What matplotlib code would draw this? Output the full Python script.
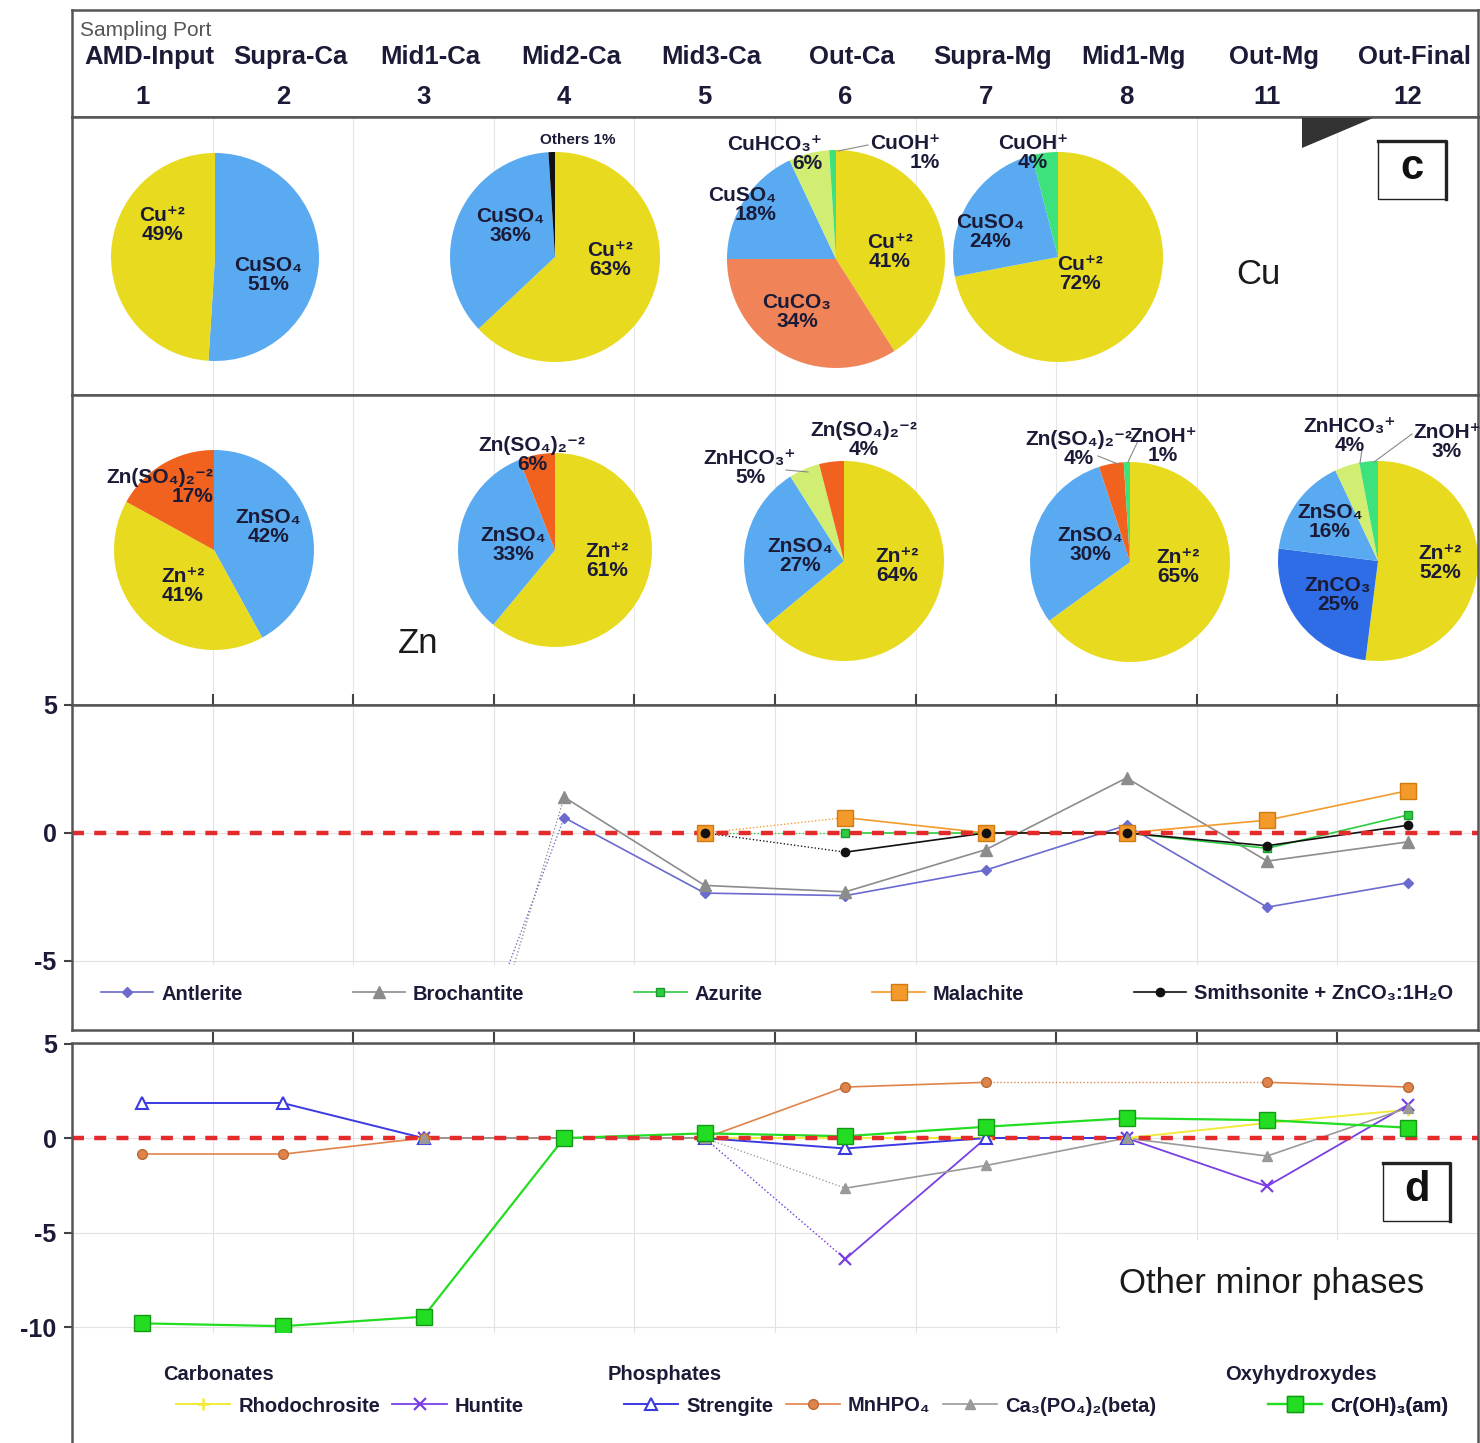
import numpy as np
import matplotlib
matplotlib.use('Agg')
import matplotlib.pyplot as plt
from matplotlib.lines import Line2D
from matplotlib.patches import Polygon, Rectangle

plt.rcParams['font.family'] = ['Liberation Sans', 'DejaVu Sans']
plt.rcParams['axes.unicode_minus'] = False

W, H = 1480, 1443
INK = '#1b1b38'
FRAME = '#555555'

# ---------------- data ----------------
ports = ['AMD-Input', 'Supra-Ca', 'Mid1-Ca', 'Mid2-Ca', 'Mid3-Ca',
         'Out-Ca', 'Supra-Mg', 'Mid1-Mg', 'Out-Mg', 'Out-Final']
port_ids = ['1', '2', '3', '4', '5', '6', '7', '8', '11', '12']

# Cu speciation (%)
cu_input_species = ['CuSO₄', 'Cu⁺²']
cu_input_pct = [51, 49]
cu_mid2ca_species = ['Cu⁺²', 'CuSO₄', 'Others']
cu_mid2ca_pct = [63, 36, 1]
cu_outca_species = ['Cu⁺²', 'CuCO₃', 'CuSO₄', 'CuHCO₃⁺', 'CuOH⁺']
cu_outca_pct = [41, 34, 18, 6, 1]
cu_supramg_species = ['Cu⁺²', 'CuSO₄', 'CuOH⁺']
cu_supramg_pct = [72, 24, 4]

# Zn speciation (%)
zn_input_species = ['ZnSO₄', 'Zn⁺²', 'Zn(SO₄)₂⁻²']
zn_input_pct = [42, 41, 17]
zn_mid2ca_species = ['Zn⁺²', 'ZnSO₄', 'Zn(SO₄)₂⁻²']
zn_mid2ca_pct = [61, 33, 6]
zn_outca_species = ['Zn⁺²', 'ZnSO₄', 'ZnHCO₃⁺', 'Zn(SO₄)₂⁻²']
zn_outca_pct = [64, 27, 5, 4]
zn_mid1mg_species = ['Zn⁺²', 'ZnSO₄', 'Zn(SO₄)₂⁻²', 'ZnOH⁺']
zn_mid1mg_pct = [65, 30, 4, 1]
zn_outfinal_species = ['Zn⁺²', 'ZnCO₃', 'ZnSO₄', 'ZnHCO₃⁺', 'ZnOH⁺']
zn_outfinal_pct = [52, 25, 16, 4, 3]

nan = np.nan
# saturation indices of Cu/Zn phases along the ports
antlerite = [nan, nan, -14.0, 0.6, -2.35, -2.45, -1.45, 0.3, -2.9, -1.95]
brochantite = [nan, nan, -17.0, 1.4, -2.05, -2.3, -0.65, 2.15, -1.1, -0.35]
azurite = [nan, nan, nan, nan, 0.0, 0.0, 0.0, 0.0, -0.6, 0.7]
malachite = [nan, nan, nan, nan, 0.0, 0.6, 0.0, 0.0, 0.5, 1.65]
smithsonite = [nan, nan, nan, nan, 0.0, -0.75, 0.0, 0.0, -0.5, 0.3]

# saturation indices of other minor phases
rhodochrosite = [nan, nan, 0.0, 0.0, 0.0, 0.0, 0.0, 0.0, 0.8, 1.5]
huntite = [nan, nan, 0.0, 0.0, 0.0, -6.4, 0.0, 0.0, -2.55, 1.75]
strengite = [1.85, 1.85, 0.0, 0.0, 0.0, -0.55, 0.0, 0.0, nan, nan]
mnhpo4 = [-0.85, -0.85, 0.0, 0.0, 0.0, 2.7, 2.95, nan, 2.95, 2.7]
ca3po42 = [nan, nan, 0.0, 0.0, 0.0, -2.65, -1.45, 0.0, -0.95, 1.6]
croh3 = [-9.8, -9.95, -9.45, 0.0, 0.25, 0.1, 0.6, 1.05, 0.95, 0.55]

species_color = {
    'Cu⁺²': '#E8DA1E', 'Zn⁺²': '#E8DA1E',
    'CuSO₄': '#5AAAF2', 'ZnSO₄': '#5AAAF2',
    'CuCO₃': '#F08458', 'ZnCO₃': '#2F6DE6',
    'CuHCO₃⁺': '#D2EE72', 'ZnHCO₃⁺': '#D2EE72',
    'CuOH⁺': '#3DE27C', 'ZnOH⁺': '#3DE27C',
    'Zn(SO₄)₂⁻²': '#F0621E', 'Others': '#111111',
}


# ---------------- helpers (pixel layout) ----------------
def fx(px):
    return px / W


def fy(py):
    return 1 - py / H


def rect(x0, y0, x1, y1):
    return [fx(x0), fy(y1), (x1 - x0) / W, (y1 - y0) / H]


def put(px, py, s, **kw):
    kw.setdefault('ha', 'center')
    kw.setdefault('va', 'center')
    return fig.text(fx(px), fy(py), s, **kw)


def fig_line(pts, **kw):
    xs = [fx(p[0]) for p in pts]
    ys = [fy(p[1]) for p in pts]
    fig.add_artist(Line2D(xs, ys, transform=fig.transFigure, **kw))


def letter_box(x0, y0, x1, y1, letter):
    fig.add_artist(Rectangle((fx(x0), fy(y1)), (x1 - x0) / W, (y1 - y0) / H,
                             transform=fig.transFigure, facecolor='white',
                             edgecolor='#222', lw=1.0))
    fig_line([(x0, y0), (x1, y0), (x1, y1)], color='#222', lw=2.4)
    put((x0 + x1) / 2, (y0 + y1) / 2 - 2, letter, fontsize=30, fontweight='bold', color='#111')


fig = plt.figure(figsize=(W / 100, H / 100), dpi=100)

X0, X1 = 72, 1478
STEP = (X1 - X0) / len(ports)
bounds_px = [X0 + STEP * k for k in range(1, len(ports))]

# ---------------- header ----------------
ax_h = fig.add_axes(rect(X0, 10, X1, 117))
ax_h.set_xlim(-0.5, len(ports) - 0.5)
ax_h.set_ylim(0, 1)
ax_h.set_xticks([])
ax_h.set_yticks([])
for s in ax_h.spines.values():
    s.set_color(FRAME)
    s.set_linewidth(1.8)
ax_h.text(0.006, 0.81, 'Sampling Port', transform=ax_h.transAxes, fontsize=15,
          color='#555', ha='left', va='center')
for i, (name, pid) in enumerate(zip(ports, port_ids)):
    ax_h.text(i + 0.05, 0.56, name, fontsize=18.5, fontweight='bold', color=INK,
              ha='center', va='center')
    ax_h.text(i, 0.187, pid, fontsize=18.5, fontweight='bold', color=INK,
              ha='center', va='center')


# ---------------- pie panels ----------------
def pie_panel(y0, y1):
    ax = fig.add_axes(rect(X0, y0, X1, y1))
    ax.set_xticks([])
    ax.set_yticks([])
    for s in ax.spines.values():
        s.set_color(FRAME)
        s.set_linewidth(1.8)
    for b in bounds_px:
        ax.axvline(b, color='#e6e6e6', lw=0.8, zorder=0)
    return ax


def draw_pie(ax, y_base, species, pct, center, radius, labels, leaders=()):
    ax.pie(pct, colors=[species_color[s] for s in species], startangle=90,
           counterclock=False, center=(center[0], y_base - center[1]),
           radius=radius, frame=True, wedgeprops=dict(linewidth=0))
    for pts in leaders:
        fig_line(pts, color='#888', lw=0.8)
    for name, val, (lx, ly, ha) in zip(species, pct, labels):
        if name == 'Others':
            put(lx, ly, f'{name} {val}%', fontsize=11, fontweight='bold', color=INK)
        else:
            put(lx, ly, f'{name}\n{val}%', fontsize=15, fontweight='bold', color=INK,
                ha=ha, multialignment=ha, linespacing=1.05)


CU_TOP, CU_BOT = 117, 395
ax_cu = pie_panel(CU_TOP, CU_BOT)
draw_pie(ax_cu, CU_BOT, cu_input_species, cu_input_pct, (215, 257), 104,
         [(268, 275, 'center'), (162, 225, 'center')])
draw_pie(ax_cu, CU_BOT, cu_mid2ca_species, cu_mid2ca_pct, (555, 257), 105,
         [(610, 260, 'center'), (510, 226, 'center'), (578, 140, 'center')])
draw_pie(ax_cu, CU_BOT, cu_outca_species, cu_outca_pct, (836, 259), 109,
         [(890, 252, 'center'), (797, 312, 'center'), (776, 205, 'right'),
          (822, 154, 'right'), (940, 153, 'right')],
         leaders=[[(868, 145), (838, 151)]])
draw_pie(ax_cu, CU_BOT, cu_supramg_species, cu_supramg_pct, (1058, 257), 105,
         [(1080, 274, 'center'), (990, 232, 'center'), (1033, 153, 'center')])
ax_cu.set_xlim(X0, X1)
ax_cu.set_ylim(0, CU_BOT - CU_TOP)
ax_cu.set_aspect('auto')

ZN_TOP, ZN_BOT = 395, 705
ax_zn = pie_panel(ZN_TOP, ZN_BOT)
draw_pie(ax_zn, ZN_BOT, zn_input_species, zn_input_pct, (214, 550), 100,
         [(268, 527, 'center'), (183, 586, 'center'), (213, 487, 'right')])
draw_pie(ax_zn, ZN_BOT, zn_mid2ca_species, zn_mid2ca_pct, (555, 550), 97,
         [(607, 561, 'center'), (513, 545, 'center'), (532, 455, 'center')])
draw_pie(ax_zn, ZN_BOT, zn_outca_species, zn_outca_pct, (844, 561), 100,
         [(897, 566, 'center'), (800, 556, 'center'), (750, 468, 'center'),
          (864, 440, 'center')],
         leaders=[[(786, 470), (808, 472)]])
draw_pie(ax_zn, ZN_BOT, zn_mid1mg_species, zn_mid1mg_pct, (1130, 562), 100,
         [(1178, 567, 'center'), (1090, 545, 'center'), (1079, 449, 'center'),
          (1163, 446, 'center')],
         leaders=[[(1098, 456), (1118, 464)], [(1138, 441), (1128, 462)]])
draw_pie(ax_zn, ZN_BOT, zn_outfinal_species, zn_outfinal_pct, (1378, 561), 100,
         [(1440, 563, 'center'), (1338, 595, 'center'), (1330, 522, 'center'),
          (1350, 436, 'center'), (1447, 442, 'center')],
         leaders=[[(1362, 450), (1360, 463)], [(1412, 434), (1374, 462)]])
ax_zn.set_xlim(X0, X1)
ax_zn.set_ylim(0, ZN_BOT - ZN_TOP)
ax_zn.set_aspect('auto')

put(1258, 275, 'Cu', fontsize=25, color='#1a1a1a')
put(418, 643, 'Zn', fontsize=25, color='#1a1a1a')
fig.add_artist(Polygon([(fx(1302), fy(118)), (fx(1373), fy(118)), (fx(1302), fy(148))],
                       closed=True, transform=fig.transFigure, facecolor='#333',
                       edgecolor='none'))
letter_box(1378, 141, 1446, 199, 'c')

# ---------------- saturation index panels ----------------
x = np.arange(len(ports))


def draw_series(ax, values, dotted, color, marker, ms, lw=1.2, mfc=None, mec=None,
                mew=1.0, z=3):
    y = np.asarray(values, dtype=float)
    ok = np.flatnonzero(np.isfinite(y))
    for a, b in zip(ok[:-1], ok[1:]):
        if a in dotted:
            ax.plot(x[[a, b]], y[[a, b]], color=color, lw=lw * 0.8,
                    ls=(0, (1, 1.6)), zorder=z)
        else:
            ax.plot(x[[a, b]], y[[a, b]], color=color, lw=lw, zorder=z)
    ax.plot(x[ok], y[ok], ls='none', marker=marker, ms=ms, mfc=mfc or color,
            mec=mec or color, mew=mew, zorder=z + 0.6)
    return Line2D([], [], color=color, lw=lw, marker=marker, ms=ms,
                  mfc=mfc or color, mec=mec or color, mew=mew)


def style_si(ax, ylim, yticks):
    ax.set_xlim(-0.5, len(ports) - 0.5)
    ax.set_ylim(*ylim)
    ax.set_yticks(yticks)
    ax.set_yticklabels([str(t) for t in yticks], fontsize=18, fontweight='bold', color=INK)
    ax.set_xticks(np.arange(0.5, len(ports) - 1, 1.0))
    ax.xaxis.set_ticks_position('top')
    ax.tick_params(axis='x', direction='out', length=8, width=1.5, color='#444',
                   labeltop=False, labelbottom=False)
    ax.tick_params(axis='y', direction='out', length=6, width=1.5, color='#444', pad=5)
    ax.grid(True, color='#e2e2e2', lw=0.8)
    ax.set_axisbelow(True)
    for s in ax.spines.values():
        s.set_color(FRAME)
        s.set_linewidth(1.8)
        s.set_zorder(8)
    ax.axhline(0, color='#E42A2A', lw=3.2, dashes=(2.7, 2.3), zorder=3.3)


leg_font = dict(weight='bold', size=14.5)

# panel c: Cu and Zn mineral phases
ax_c = fig.add_axes(rect(X0, 705, X1, 1030))
style_si(ax_c, (-7.7, 5.0), [5, 0, -5])
h_ant = draw_series(ax_c, antlerite, {2}, '#6A6ACF', 'D', 5.5)
h_bro = draw_series(ax_c, brochantite, {2}, '#8C8C8C', '^', 8)
h_azu = draw_series(ax_c, azurite, {4}, '#2ECC40', 's', 6, mec='#1E9A30')
h_mal = draw_series(ax_c, malachite, {4}, '#F39A2B', 's', 12, mec='#D07A10')
h_smi = draw_series(ax_c, smithsonite, {4}, '#111111', 'o', 6)
ax_c.add_patch(Rectangle((-0.5, -7.7), len(ports), 2.54, facecolor='white',
                         edgecolor='none', zorder=4))
ax_c.legend([h_ant, h_bro, h_azu, h_mal, h_smi],
            ['Antlerite', 'Brochantite', 'Azurite', 'Malachite',
             'Smithsonite + ZnCO₃:1H₂O'],
            loc='center left', bbox_to_anchor=(fx(101), fy(994)),
            bbox_transform=fig.transFigure, ncol=5, frameon=False, prop=leg_font,
            labelcolor=INK, handlelength=2.6, handletextpad=0.4, columnspacing=5.45,
            borderaxespad=0, borderpad=0).set_zorder(6)

# panel d: other minor phases
ax_d = fig.add_axes(rect(X0, 1043, X1, 1450))
style_si(ax_d, (-16.5, 5.03), [5, 0, -5, -10])
ax_d.spines['bottom'].set_visible(False)
h_rho = draw_series(ax_d, rhodochrosite, set(), '#F2EA3A', '+', 8, lw=1.4, mew=1.8)
h_hun = draw_series(ax_d, huntite, {4}, '#7A3FE4', 'x', 9, lw=1.3, mew=1.6)
h_str = draw_series(ax_d, strengite, set(), '#3A3AE0', '^', 8, lw=1.4, mfc='white',
                    mew=1.5)
h_mnh = draw_series(ax_d, mnhpo4, {6}, '#E0834A', 'o', 7, mec='#B86A35')
h_ca3 = draw_series(ax_d, ca3po42, {4}, '#9A9A9A', '^', 7.5)
h_cro = draw_series(ax_d, croh3, set(), '#22DD22', 's', 12, lw=1.6, mec='#169A16')
ax_d.add_patch(Rectangle((-0.5, -16.5), len(ports), 6.2, facecolor='white',
                         edgecolor='none', zorder=4))
ax_d.add_patch(Rectangle((6.53, -10.4), 3.0, 5.0, facecolor='white',
                         edgecolor='none', zorder=4))

legend_groups = [
    ('Carbonates', 163, 176, [h_rho, h_hun], ['Rhodochrosite', 'Huntite']),
    ('Phosphates', 608, 624, [h_str, h_mnh, h_ca3],
     ['Strengite', 'MnHPO₄', 'Ca₃(PO₄)₂(beta)']),
    ('Oxyhydroxydes', 1225, 1268, [h_cro], ['Cr(OH)₃(am)']),
]
for title, tx, hx, hs, ls in legend_groups:
    put(tx, 1375, title, ha='left', fontsize=14.5, fontweight='bold', color=INK)
    leg = ax_d.legend(hs, ls, loc='center left', bbox_to_anchor=(fx(hx), fy(1406)),
                      bbox_transform=fig.transFigure, ncol=len(hs), frameon=False,
                      prop=leg_font, labelcolor=INK, handlelength=2.7,
                      handletextpad=0.4, columnspacing=0.6, borderaxespad=0,
                      borderpad=0)
    leg.set_zorder(6)
    ax_d.add_artist(leg)

put(1272, 1284, 'Other minor phases', fontsize=25, color='#1a1a1a')
letter_box(1383, 1163, 1450, 1221, 'd')

fig.savefig('out.png', dpi=100)
